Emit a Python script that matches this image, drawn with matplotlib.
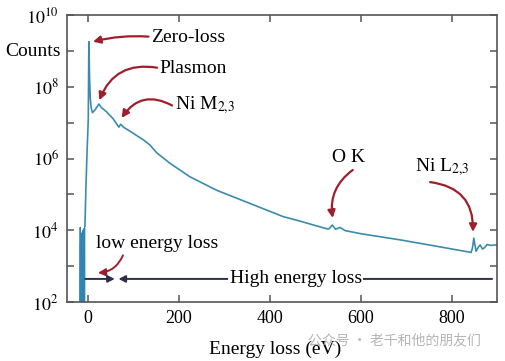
import matplotlib
matplotlib.use('Agg')
from matplotlib import pyplot as plt

plt.rcParams['font.family'] = ['Liberation Serif', 'DejaVu Serif']
plt.rcParams['mathtext.fontset'] = 'stix'

# noisy region before the zero-loss peak
noise_E = [-20, -17.2, -16.8, -16.4, -16.0, -15.6, -15.2, -14.8, -14.4, -14.0, -13.6, -13.2,
           -12.8, -12.4, -12.0, -11.6, -11.2, -10.8, -10.4, -10.0, -9.6, -9.2, -8.8, -8.4,
           -8.0, -7.6, -7.2]
noise_counts = [5, 5, 1.2e4, 5, 4e3, 5, 6e3, 5, 3e3, 5, 8e3, 5,
                5e3, 5, 9e3, 5, 7e3, 5, 1e4, 5, 8e3, 5, 1.1e4, 5,
                9e3, 5, 1.2e4]

# main spectrum
energy = [-6.6, -4.4, -2.0, 0.7, 2.0, 3.5, 5.0, 7.0, 10, 16, 24, 30, 41, 55, 65, 68, 72, 78,
          99, 122, 136, 151, 180, 224, 283, 356, 429, 466, 500, 525, 530, 537, 544, 554, 565,
          600, 686, 760, 835, 842, 845, 848, 853, 858, 862, 867, 872, 877, 885, 898]
counts = [1.3e4, 1.6e5, 1.5e6, 1.2e7, 1.8e9, 2e8, 5e7, 2.6e7, 1.9e7, 2.3e7, 3.3e7, 2.6e7, 2e7,
          1.3e7, 8.5e6, 7.5e6, 9e6, 7.5e6, 5.1e6, 3.3e6, 2.4e6, 1.45e6, 7.4e5, 3.1e5, 1.3e5,
          5.6e4, 2.4e4, 1.8e4, 1.35e4, 1.1e4, 1.1e4, 1.4e4, 1.07e4, 1.2e4, 9.8e3,
          8e3, 5.4e3, 3.7e3, 2.5e3, 2.4e3, 3.2e3, 6e3, 2.6e3, 3.4e3, 3.9e3, 3.0e3, 3.3e3, 4e3,
          3.8e3, 3.9e3]

xticks = [0, 200, 400, 600, 800]
ydecades = [2, 3, 4, 5, 6, 7, 8, 9, 10]

red = '#9e1f2c'
navy = '#2e2e48'
blue = '#3b8caa'

fig = plt.figure(figsize=(5.05, 3.61), dpi=100)
ax = fig.add_axes([0.1327, 0.1634, 0.8515, 0.795])

ax.plot(noise_E, noise_counts, color='#2f86b4', lw=1.0)
ax.plot(energy, counts, color=blue, lw=1.2)

ax.set_yscale('log')
ax.set_xlim(-46, 899)
ax.set_ylim(1e2, 1e10)

ax.set_xticks(xticks)
ax.set_xticklabels([str(t) for t in xticks])
ax.set_yticks([10.0 ** d for d in ydecades])
ax.set_yticklabels([r'$10^{%d}$' % d if d % 2 == 0 else '' for d in ydecades])
ax.minorticks_off()
ax.tick_params(direction='in', top=True, right=True, length=5, width=1.1,
               color='#555555', labelsize=13, pad=6)
for s in ax.spines.values():
    s.set_color('#555555')
    s.set_linewidth(1.2)

ax.set_xlabel('Energy loss (eV)', fontsize=14, labelpad=4)
ax.xaxis.set_label_coords(0.483, -0.135)
ax.text(-0.08, 0.872, 'Counts', transform=ax.transAxes, fontsize=14,
        ha='center', va='center')

arrow = dict(arrowstyle='-|>', color=red, lw=1.6, mutation_scale=11, shrinkA=0, shrinkB=0)

ax.text(138, 2.3e9, 'Zero-loss', fontsize=14, va='center')
ax.annotate('', xy=(11, 1.8e9), xytext=(133, 2.5e9),
            arrowprops=dict(arrow, connectionstyle='arc3,rad=0.08'))
ax.text(158, 3.2e8, 'Plasmon', fontsize=14, va='center')
ax.annotate('', xy=(25, 4.2e7), xytext=(152, 3.4e8),
            arrowprops=dict(arrow, connectionstyle='arc3,rad=0.4'))
ax.text(191, 3.0e7, r'Ni M$_{2{,}3}$', fontsize=14, va='center')
ax.annotate('', xy=(74, 1.35e7), xytext=(185, 3.0e7),
            arrowprops=dict(arrow, connectionstyle='arc3,rad=0.45'))
ax.text(572, 1.05e6, 'O K', fontsize=14, ha='center', va='center')
ax.annotate('', xy=(538, 2.2e4), xytext=(582, 4.8e5),
            arrowprops=dict(arrow, connectionstyle='arc3,rad=0.3'))
ax.text(719, 5.6e5, r'Ni L$_{2{,}3}$', fontsize=14, va='center')
ax.annotate('', xy=(846, 9e3), xytext=(752, 2.2e5),
            arrowprops=dict(arrow, connectionstyle='arc3,rad=-0.45'))
ax.text(18, 4.4e3, 'low energy loss', fontsize=14, va='center')
ax.annotate('', xy=(22, 6.5e2), xytext=(77, 2.0e3),
            arrowprops=dict(arrow, lw=1.4, connectionstyle='arc3,rad=-0.3'))

rng_arrow = dict(arrowstyle='-|>', color=navy, lw=1.4, mutation_scale=10, shrinkA=0, shrinkB=0)
ax.annotate('', xy=(59, 4.4e2), xytext=(-6, 4.4e2), arrowprops=rng_arrow)
ax.annotate('', xy=(67, 4.4e2), xytext=(888, 4.4e2), arrowprops=rng_arrow)
ax.text(457, 4.4e2, 'High energy loss', fontsize=14, ha='center', va='center',
        bbox=dict(facecolor='white', edgecolor='none', pad=1))

fig.text(0.61, 0.058, '公众号 · 老千和他的朋友们', fontsize=10, color='#b5b5b5',
         family=['Noto Sans CJK SC', 'DejaVu Sans'], va='center')

fig.savefig('out.png', dpi=100)
